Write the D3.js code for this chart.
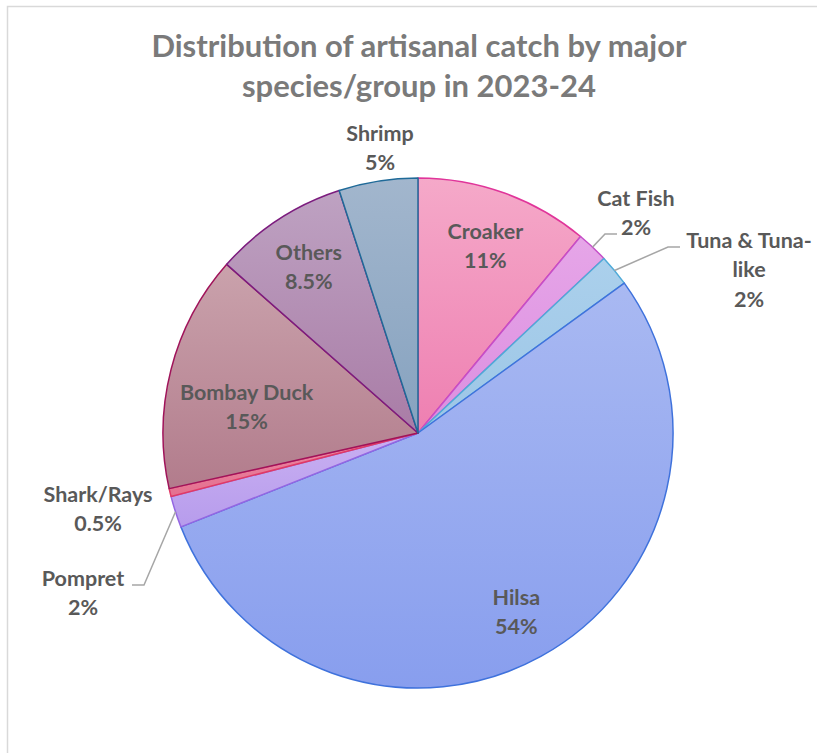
<!DOCTYPE html>
<html>
<head>
<meta charset="utf-8">
<script src="https://cdn.jsdelivr.net/npm/d3@7"></script>
<style>
  body { margin: 0; background: #fff; }
  text { font-family: Lato, "Open Sans", sans-serif; font-weight: bold; }
</style>
</head>
<body>
<div id="chart"></div>
<script>
// data, clockwise from 12 o'clock
var species = ["Croaker", "Cat Fish", "Tuna & Tuna-like", "Hilsa", "Pompret", "Shark/Rays", "Bombay Duck", "Others", "Shrimp"];
var shares = [11, 2, 2, 54, 2, 0.5, 15, 8.5, 5];
var shareLabels = ["11%", "2%", "2%", "54%", "2%", "0.5%", "15%", "8.5%", "5%"];
var labelLines = [["Croaker"], ["Cat Fish"], ["Tuna & Tuna-", "like"], ["Hilsa"], ["Pompret"], ["Shark/Rays"], ["Bombay Duck"], ["Others"], ["Shrimp"]];

var topColors = ["#f5a9c9", "#e6a6e8", "#abd0ec", "#a9b9f2", "#c9b0f2", "#ec8aa6", "#caa2ac", "#bea2c2", "#a2b6cd"];
var bottomColors = ["#ee7fb1", "#dc8ee0", "#9cc6e6", "#889eee", "#b79cec", "#e4708f", "#b27c8c", "#a97ca6", "#86a2bf"];
var strokeColors = ["#e0359a", "#c54fc8", "#4faad8", "#3f72dc", "#9466e2", "#e03a66", "#a0135a", "#7c1c7e", "#1f6a98"];

var svgWidth = 817;
var svgHeight = 753;
var cx = 418, cy = 433, radius = 255;

var svg = d3.select("#chart")
  .append("svg")
  .attr("width", svgWidth)
  .attr("height", svgHeight);

// chart area border
svg.append("rect")
  .attr("x", 7.5).attr("y", 6.5)
  .attr("width", 840).attr("height", 800)
  .attr("fill", "none")
  .attr("stroke", "#d9d9d9")
  .attr("stroke-width", 1.5);

var title = svg.append("text")
  .attr("text-anchor", "middle")
  .attr("fill", "#7a7a7a")
  .attr("font-size", 31);
title.append("tspan").attr("x", 419).attr("y", 57).text("Distribution of artisanal catch by major");
title.append("tspan").attr("x", 419).attr("y", 97).text("species/group in 2023-24");

var defs = svg.append("defs");
species.forEach(function(s, i) {
  var g = defs.append("linearGradient")
    .attr("id", "grad" + i)
    .attr("x1", 0).attr("y1", 0).attr("x2", 0).attr("y2", 1);
  g.append("stop").attr("offset", "0%").attr("stop-color", topColors[i]);
  g.append("stop").attr("offset", "100%").attr("stop-color", bottomColors[i]);
});

var pie = d3.pie().sort(null).value(function(d) { return d; });
var arcs = pie(shares);
var arc = d3.arc().innerRadius(0).outerRadius(radius);

var pieGroup = svg.append("g")
  .attr("transform", `translate(${cx}, ${cy})`);

pieGroup.selectAll("path")
  .data(arcs)
  .enter()
  .append("path")
  .attr("d", arc)
  .attr("fill", function(d, i) { return "url(#grad" + i + ")"; })
  .attr("stroke", function(d, i) { return strokeColors[i]; })
  .attr("stroke-width", 1.5)
  .attr("stroke-linejoin", "round");

// label layout: inside labels sit on a radius, outside ones have a fixed spot + leader
var layout = {
  "Croaker": { r: 0.78 },
  "Hilsa": { r: 0.8 },
  "Others": { r: 0.78 },
  "Shrimp": { x: 380, y: 133 },
  "Bombay Duck": { r: 0.68, da: -0.1 },
  "Cat Fish": { x: 636, y: 198, leader: [[605, 234], [617, 234]] },
  "Tuna & Tuna-like": { x: 749, y: 240, leader: [[668, 247], [680, 247]] },
  "Pompret": { x: 83, y: 578, leader: [[144, 585], [132, 585]] },
  "Shark/Rays": { x: 98, y: 494 }
};

var lineGap = 29.5;

arcs.forEach(function(d, i) {
  var L = layout[species[i]];
  var mid = (d.startAngle + d.endAngle) / 2;
  var x, y;
  if (L.r !== undefined) {
    var a = mid + (L.da || 0);
    x = cx + Math.sin(a) * radius * L.r;
    y = cy - Math.cos(a) * radius * L.r;
    y -= lineGap / 2;
  } else {
    x = L.x; y = L.y;
  }

  if (L.leader) {
    var edge = [cx + Math.sin(mid) * radius, cy - Math.cos(mid) * radius];
    var pts = [edge].concat(L.leader);
    svg.append("path")
      .attr("d", d3.line()(pts))
      .attr("fill", "none")
      .attr("stroke", "#a6a6a6")
      .attr("stroke-width", 1.5);
  }

  var lines = labelLines[i].concat([shareLabels[i]]);
  var t = svg.append("text")
    .attr("text-anchor", "middle")
    .attr("fill", "#595959")
    .attr("font-size", 21.5);
  lines.forEach(function(line, k) {
    t.append("tspan")
      .attr("x", x)
      .attr("y", y + k * lineGap + 7.5)
      .text(line);
  });
});
</script>
</body>
</html>
